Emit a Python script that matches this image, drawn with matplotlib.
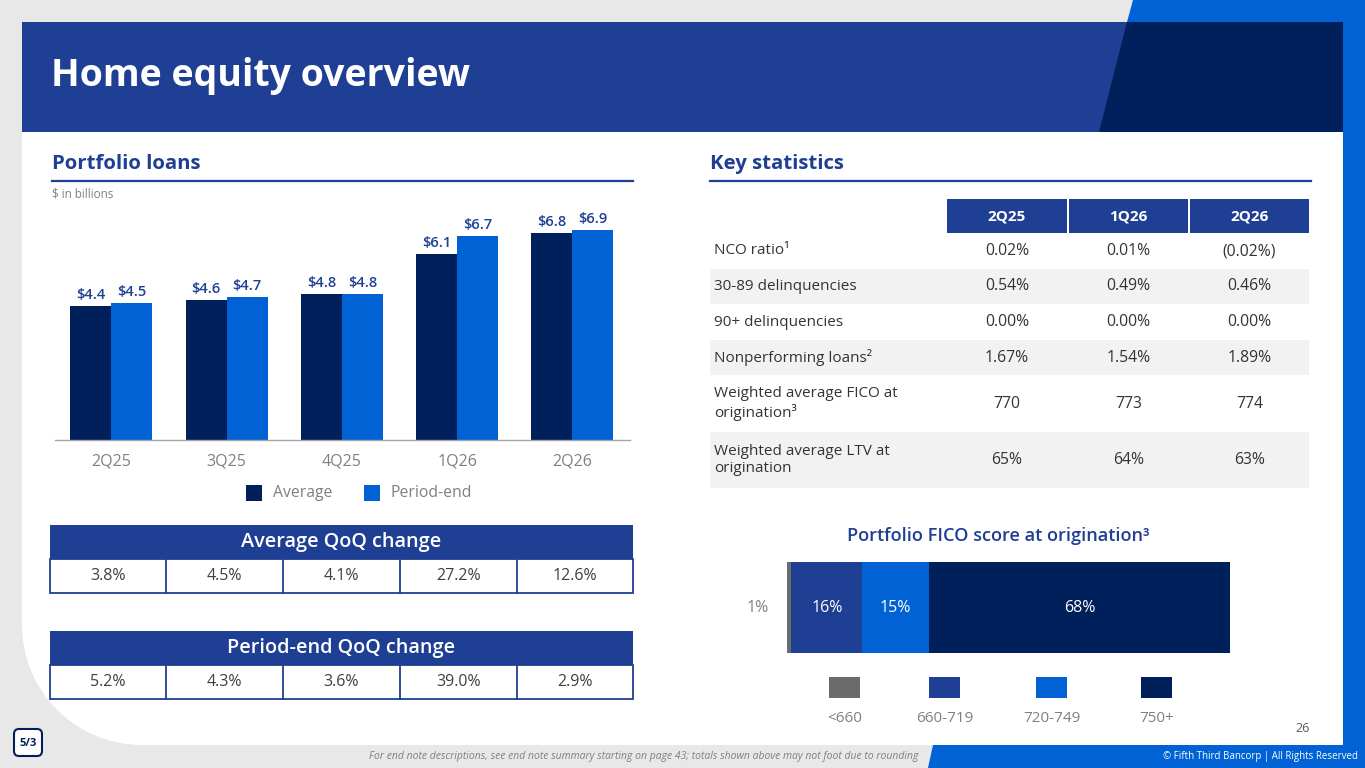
import matplotlib
matplotlib.use('Agg')
import matplotlib.pyplot as plt
from matplotlib.patches import Rectangle, Polygon, Circle, FancyBboxPatch
import numpy as np

plt.rcParams['font.family'] = ['Open Sans', 'DejaVu Sans']

# ---------------- data ----------------
quarters = ['2Q25', '3Q25', '4Q25', '1Q26', '2Q26']
average = [4.4, 4.6, 4.8, 6.1, 6.8]
period_end = [4.5, 4.7, 4.8, 6.7, 6.9]
avg_qoq = ['3.8%', '4.5%', '4.1%', '27.2%', '12.6%']
pe_qoq = ['5.2%', '4.3%', '3.6%', '39.0%', '2.9%']

stat_cols = ['2Q25', '1Q26', '2Q26']
stat_rows = ['NCO ratio\u00b9', '30-89 delinquencies', '90+ delinquencies',
             'Nonperforming loans\u00b2', 'Weighted average FICO at\norigination\u00b3',
             'Weighted average LTV at\norigination']
stat_2q25 = ['0.02%', '0.54%', '0.00%', '1.67%', '770', '65%']
stat_1q26 = ['0.01%', '0.49%', '0.00%', '1.54%', '773', '64%']
stat_2q26 = ['(0.02%)', '0.46%', '0.00%', '1.89%', '774', '63%']

fico_bands = ['<660', '660-719', '720-749', '750+']
fico_pct = [1, 16, 15, 68]

# ---------------- style ----------------
NAVY = '#00205B'
BLUE = '#1F3F94'
BRIGHT = '#0062D4'
GREYBG = '#E8E8E8'
FICO_GRAY = '#6B6B6B'
TXT = '#333333'
LIGHT = '#808080'
fico_colors = [FICO_GRAY, BLUE, BRIGHT, NAVY]

W, H = 1365, 768
fig = plt.figure(figsize=(W / 100, H / 100), dpi=100)
fig.patch.set_facecolor(GREYBG)
bg = fig.add_axes([0, 0, 1, 1])
bg.set_xlim(0, W)
bg.set_ylim(H, 0)
bg.axis('off')
bg.patch.set_alpha(0)


def rect(x0, y0, x1, y1, fc, ec='none', lw=0, z=1):
    bg.add_patch(Rectangle((x0, y0), x1 - x0, y1 - y0, facecolor=fc,
                           edgecolor=ec, linewidth=lw, zorder=z))


# frame
rect(1343, 0, 1365, 768, BRIGHT)
bg.add_patch(Polygon([(1133, 0), (1343, 0), (1343, 22), (1127.3, 22)],
                     closed=True, facecolor=BRIGHT, edgecolor='none', zorder=1))
R = 120
rect(22 + R, 22, 1343, 745, 'white')
rect(22, 22, 1343, 745 - R, 'white')
bg.add_patch(Circle((22 + R, 745 - R), R, facecolor='white', edgecolor='none', zorder=1))
rect(22, 22, 1343, 132, BLUE, z=2)
bg.add_patch(Polygon([(1127.3, 22), (1343, 22), (1343, 132), (1099, 132)],
                     closed=True, facecolor=NAVY, edgecolor='none', zorder=3))
bg.add_patch(Polygon([(933, 745), (1365, 745), (1365, 768), (928, 768)],
                     closed=True, facecolor=BRIGHT, edgecolor='none', zorder=2))

# title
bg.text(51, 76, 'Home equity overview', color='white', fontsize=27,
        fontweight='bold', va='center', ha='left', zorder=5)

# section headers
bg.text(52, 164, 'Portfolio loans', color=BLUE, fontsize=14.7, fontweight='bold',
        va='center', ha='left', zorder=5)
bg.plot([52, 633], [180.5, 180.5], color=BLUE, lw=1.6, zorder=5)
bg.text(710, 164, 'Key statistics', color=BLUE, fontsize=14.7, fontweight='bold',
        va='center', ha='left', zorder=5)
bg.plot([710, 1311], [180.5, 180.5], color=BLUE, lw=1.6, zorder=5)
bg.text(52, 194, '$ in billions', color=LIGHT, fontsize=8.4, va='center',
        ha='left', zorder=5)

# ---------------- bar chart ----------------
ax = fig.add_axes([55 / W, (H - 440) / H, 575 / W, 240 / H])
ax.patch.set_alpha(0)
x = np.arange(len(quarters))
bw = 0.356
ax.bar(x - bw / 2, average, bw, color=NAVY, zorder=2)
ax.bar(x + bw / 2, period_end, bw, color=BRIGHT, zorder=2)
for xi, v in zip(x, average):
    ax.text(xi - bw / 2, v + 0.13, f'${v:.1f}', ha='center', va='bottom',
            color=BLUE, fontsize=10.5, fontweight='semibold')
for xi, v in zip(x, period_end):
    ax.text(xi + bw / 2, v + 0.13, f'${v:.1f}', ha='center', va='bottom',
            color=BLUE, fontsize=10.5, fontweight='semibold')
ax.set_xlim(-0.49, 4.5)
ax.set_ylim(0, 7.87)
ax.set_xticks(x)
ax.set_xticklabels(quarters, color=LIGHT, fontsize=11.5)
ax.tick_params(axis='x', length=0, pad=10)
ax.set_yticks([])
for s in ['top', 'left', 'right']:
    ax.spines[s].set_visible(False)
ax.spines['bottom'].set_color('#A6A6A6')
ax.spines['bottom'].set_linewidth(1.0)

# legend
rect(246, 485, 262, 501, NAVY, z=5)
bg.text(273, 493, 'Average', color=LIGHT, fontsize=11.3, va='center', ha='left', zorder=5)
rect(364, 485, 380, 501, BRIGHT, z=5)
bg.text(391, 493, 'Period-end', color=LIGHT, fontsize=11.3, va='center', ha='left', zorder=5)

# ---------------- QoQ tables ----------------
col_edges = [50, 166, 283, 400, 517, 633]


def qoq_table(top, title, values):
    rect(50, top, 633, top + 34, BLUE, z=5)
    bg.text(341.5, top + 17.5, title, color='white', fontsize=14.3, va='center',
            ha='center', fontweight='semibold', zorder=6)
    rect(50, top + 34, 633, top + 68, 'white', ec=BLUE, lw=1.3, z=5)
    for xe in col_edges[1:-1]:
        bg.plot([xe, xe], [top + 34, top + 68], color=BLUE, lw=1.3, zorder=6)
    for i, v in enumerate(values):
        cx = (col_edges[i] + col_edges[i + 1]) / 2
        bg.text(cx, top + 51.5, v, color='#404040', fontsize=11.5, va='center',
                ha='center', zorder=6)


qoq_table(525, 'Average QoQ change', avg_qoq)
qoq_table(631, 'Period-end QoQ change', pe_qoq)

# ---------------- key statistics table ----------------
hdr_cells = [(947, 1067), (1069, 1188), (1190, 1309)]
for (x0, x1), lab in zip(hdr_cells, stat_cols):
    rect(x0, 199, x1, 233, BLUE, z=5)
    bg.text((x0 + x1) / 2, 216.5, lab, color='white', fontsize=11,
            fontweight='bold', va='center', ha='center', zorder=6)
row_edges = [233, 269, 304, 340, 375, 432, 488]
col_vals = [stat_2q25, stat_1q26, stat_2q26]
for r, lab in enumerate(stat_rows):
    y0, y1 = row_edges[r], row_edges[r + 1]
    if r % 2 == 1:
        rect(710, y0, 1309, y1, '#F2F2F2', z=4)
    cy = (y0 + y1) / 2
    bg.text(714, cy, lab, color=TXT, fontsize=11, va='center', ha='left',
            linespacing=1.2, zorder=6)
    for (x0, x1), vals in zip(hdr_cells, col_vals):
        bg.text((x0 + x1) / 2, cy, vals[r], color=TXT, fontsize=11.3,
                va='center', ha='center', zorder=6)

# ---------------- FICO bar ----------------
bg.text(998, 536, 'Portfolio FICO score at origination\u00b3', color=BLUE,
        fontsize=13.1, fontweight='semibold', va='center', ha='center', zorder=6)
fax = fig.add_axes([787 / W, (H - 653) / H, 443 / W, 91 / H])
fax.patch.set_alpha(0)
left = 0
for p, c in zip(fico_pct, fico_colors):
    fax.barh(0, p, left=left, height=1.0, color=c)
    if p >= 5:
        fax.text(left + p / 2, 0, f'{p}%', color='white', fontsize=11.5,
                 ha='center', va='center')
    else:
        fax.text(-4.2, 0, f'{p}%', color=LIGHT, fontsize=11.5, ha='right', va='center')
    left += p
fax.set_xlim(0, 100)
fax.set_ylim(-0.5, 0.5)
fax.axis('off')

leg_x = [829, 929, 1036, 1141]
for lx, c, lab in zip(leg_x, fico_colors, fico_bands):
    rect(lx, 677, lx + 31, 698, c, z=5)
    bg.text(lx + 15.5, 719, lab, color=LIGHT, fontsize=11, va='center',
            ha='center', zorder=6)

# page number, footer
bg.text(1310, 729, '26', color='#595959', fontsize=9, va='center', ha='right', zorder=6)
bg.text(918, 757, 'For end note descriptions, see end note summary starting on page 43; '
        'totals shown above may not foot due to rounding', color=LIGHT, fontsize=7.5,
        style='italic', va='center', ha='right', zorder=6)
bg.text(1358, 757, '\u00a9 Fifth Third Bancorp | All Rights Reserved', color='white',
        fontsize=7, va='center', ha='right', zorder=6)

# logo
bg.add_patch(FancyBboxPatch((14, 729), 28, 27, boxstyle='round,pad=0,rounding_size=5',
                            facecolor='white', edgecolor=NAVY, linewidth=1.5, zorder=6))
bg.text(28, 743, '5/3', color=NAVY, fontsize=8, fontweight='bold', va='center',
        ha='center', zorder=7)

fig.savefig('out.png', dpi=100, facecolor=fig.get_facecolor())
